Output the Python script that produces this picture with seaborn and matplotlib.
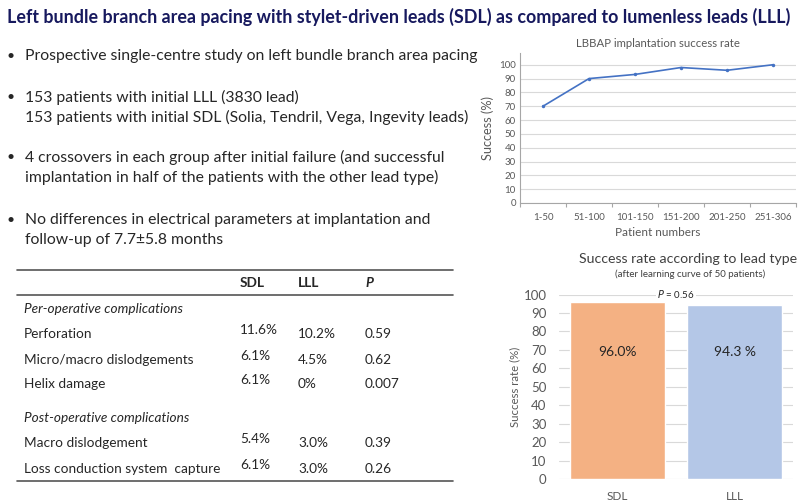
import matplotlib
matplotlib.use('Agg')
import matplotlib.pyplot as plt
import seaborn as sns
import pandas as pd

# data
groups = ['1-50', '51-100', '101-150', '151-200', '201-250', '251-306']
success = [70, 90, 93, 98, 96, 100]

lead_types = ['SDL', 'LLL']
lead_success = [96.0, 94.3]
lead_labels = ['96.0%', '94.3 %']

row_names = ['Perforation', 'Micro/macro dislodgements', 'Helix damage',
             'Macro dislodgement', 'Loss conduction system  capture']
sdl_vals = ['11.6%', '6.1%', '6.1%', '5.4%', '6.1%']
lll_vals = ['10.2%', '4.5%', '0%', '3.0%', '3.0%']
p_vals = ['0.59', '0.62', '0.007', '0.39', '0.26']

bullets = [
    ['Prospective single-centre study on left bundle branch area pacing'],
    ['153 patients with initial LLL (3830 lead)',
     '153 patients with initial SDL (Solia, Tendril, Vega, Ingevity leads)'],
    ['4 crossovers in each group after initial failure (and successful',
     'implantation in half of the patients with the other lead type)'],
    ['No differences in electrical parameters at implantation and',
     'follow-up of 7.7\u00b15.8 months'],
]

sns.set_theme(style='white')
plt.rcParams['font.family'] = ['Lato', 'DejaVu Sans']

W, H = 800, 503
fig = plt.figure(figsize=(8, 5.03), dpi=100)


def px(x, y):
    return x / W, 1 - y / H


def box(l, t, r, b):
    return [l / W, 1 - b / H, (r - l) / W, (b - t) / H]


txt = '#262626'

# title
fig.text(*px(399, 17), 'Left bundle branch area pacing with stylet-driven leads (SDL) as compared to lumenless leads (LLL)',
         ha='center', va='center', fontsize=12.9, fontweight='bold', color='#17195e')

# bullets
bullet_y = [56, 97, 157, 219.5]
for y0, lines in zip(bullet_y, bullets):
    fig.text(*px(6, y0), '\u2022', ha='left', va='center', fontsize=10, color=txt)
    for i, line in enumerate(lines):
        fig.text(*px(25, y0 + i * 20.5), line, ha='left', va='center', fontsize=11.3, color=txt)

# table
rule_ax = fig.add_axes([0, 0, 1, 1], facecolor='none')
rule_ax.set_xlim(0, W)
rule_ax.set_ylim(H, 0)
rule_ax.axis('off')
for y in [269.5, 295, 481]:
    rule_ax.plot([17, 453], [y, y], color='#555555', lw=1.2)

fs = 9.8
fig.text(*px(240, 283), 'SDL', ha='left', va='center', fontsize=fs, fontweight='bold', color=txt)
fig.text(*px(298, 283), 'LLL', ha='left', va='center', fontsize=fs, fontweight='bold', color=txt)
fig.text(*px(365, 283), 'P', ha='left', va='center', fontsize=fs, fontweight='bold', style='italic', color=txt)
fig.text(*px(24, 309), 'Per-operative complications', ha='left', va='center', fontsize=fs, style='italic', color=txt)
fig.text(*px(24, 418), 'Post-operative complications', ha='left', va='center', fontsize=fs, style='italic', color=txt)
row_y = [334, 360, 384, 443, 469]
for y, name, s, l, p in zip(row_y, row_names, sdl_vals, lll_vals, p_vals):
    fig.text(*px(24, y), name, ha='left', va='center', fontsize=fs, color=txt)
    fig.text(*px(240, y - 4), s, ha='left', va='center', fontsize=fs, color=txt)
    fig.text(*px(298, y), l, ha='left', va='center', fontsize=fs, color=txt)
    fig.text(*px(365, y), p, ha='left', va='center', fontsize=fs, color=txt)

# line chart
ax1 = fig.add_axes(box(520, 53, 796, 203))
df1 = pd.DataFrame({'group': groups, 'success': success})
sns.lineplot(data=df1, x='group', y='success', ax=ax1, color='#4472c4', lw=1.2,
             marker='o', markersize=2.5, markeredgewidth=0)
ax1.set_xlim(-0.5, 5.5)
ax1.set_ylim(0, 108.5)
ax1.set_yticks(range(0, 101, 10))
ax1.set_xticks([i - 0.5 for i in range(7)], minor=True)
ax1.yaxis.grid(True, color='#d9d9d9', lw=0.8)
ax1.set_axisbelow(True)
for s in ['top', 'right']:
    ax1.spines[s].set_visible(False)
for s in ['left', 'bottom']:
    ax1.spines[s].set_color('#a6a6a6')
    ax1.spines[s].set_linewidth(0.8)
ax1.tick_params(labelsize=7, colors='#595959', length=0, pad=3)
ax1.tick_params(axis='x', pad=7)
ax1.tick_params(axis='x', which='minor', length=3, width=0.8, color='#a6a6a6', bottom=True)
ax1.set_xlabel('Patient numbers', fontsize=8.5, color='#595959', labelpad=4)
ax1.set_ylabel('Success (%)', fontsize=9.2, color='#595959', labelpad=4)
ax1.set_title('LBBAP implantation success rate', fontsize=8.2, color='#595959', pad=4)

# bar chart
ax2 = fig.add_axes(box(559, 294.5, 793, 479))
df2 = pd.DataFrame({'lead': lead_types, 'rate': lead_success})
sns.barplot(data=df2, x='lead', y='rate', hue='lead', palette=['#f4b183', '#b4c7e7'],
            width=0.82, ax=ax2, legend=False, saturation=1)
ax2.set_xlim(-0.5, 1.5)
ax2.set_ylim(0, 100)
ax2.set_yticks(range(0, 101, 10))
ax2.yaxis.grid(True, color='#d9d9d9', lw=0.8)
ax2.set_axisbelow(True)
sns.despine(ax=ax2, left=True, bottom=True)
ax2.tick_params(axis='y', labelsize=9.5, colors='#595959', length=0, pad=9)
ax2.tick_params(axis='x', labelsize=8.5, colors='#595959', length=0, pad=9)
ax2.set_xlabel('')
ax2.set_ylabel('Success rate (%)', fontsize=8.2, color='#595959', labelpad=2)
for i, lab in enumerate(lead_labels):
    ax2.text(i, 69, lab, ha='center', va='center', fontsize=10, color='#262626')
ax2.text(0.5, 100, '$P$ = 0.56', ha='center', va='center', fontsize=7, color='#262626',
         bbox=dict(facecolor='white', edgecolor='none', pad=1))
fig.text(*px(688, 259), 'Success rate according to lead type', ha='center', va='center',
         fontsize=10.2, color='#404040')
fig.text(*px(690, 274), '(after learning curve of 50 patients)', ha='center', va='center',
         fontsize=7, color='#404040')

fig.savefig('out.png', dpi=100)
